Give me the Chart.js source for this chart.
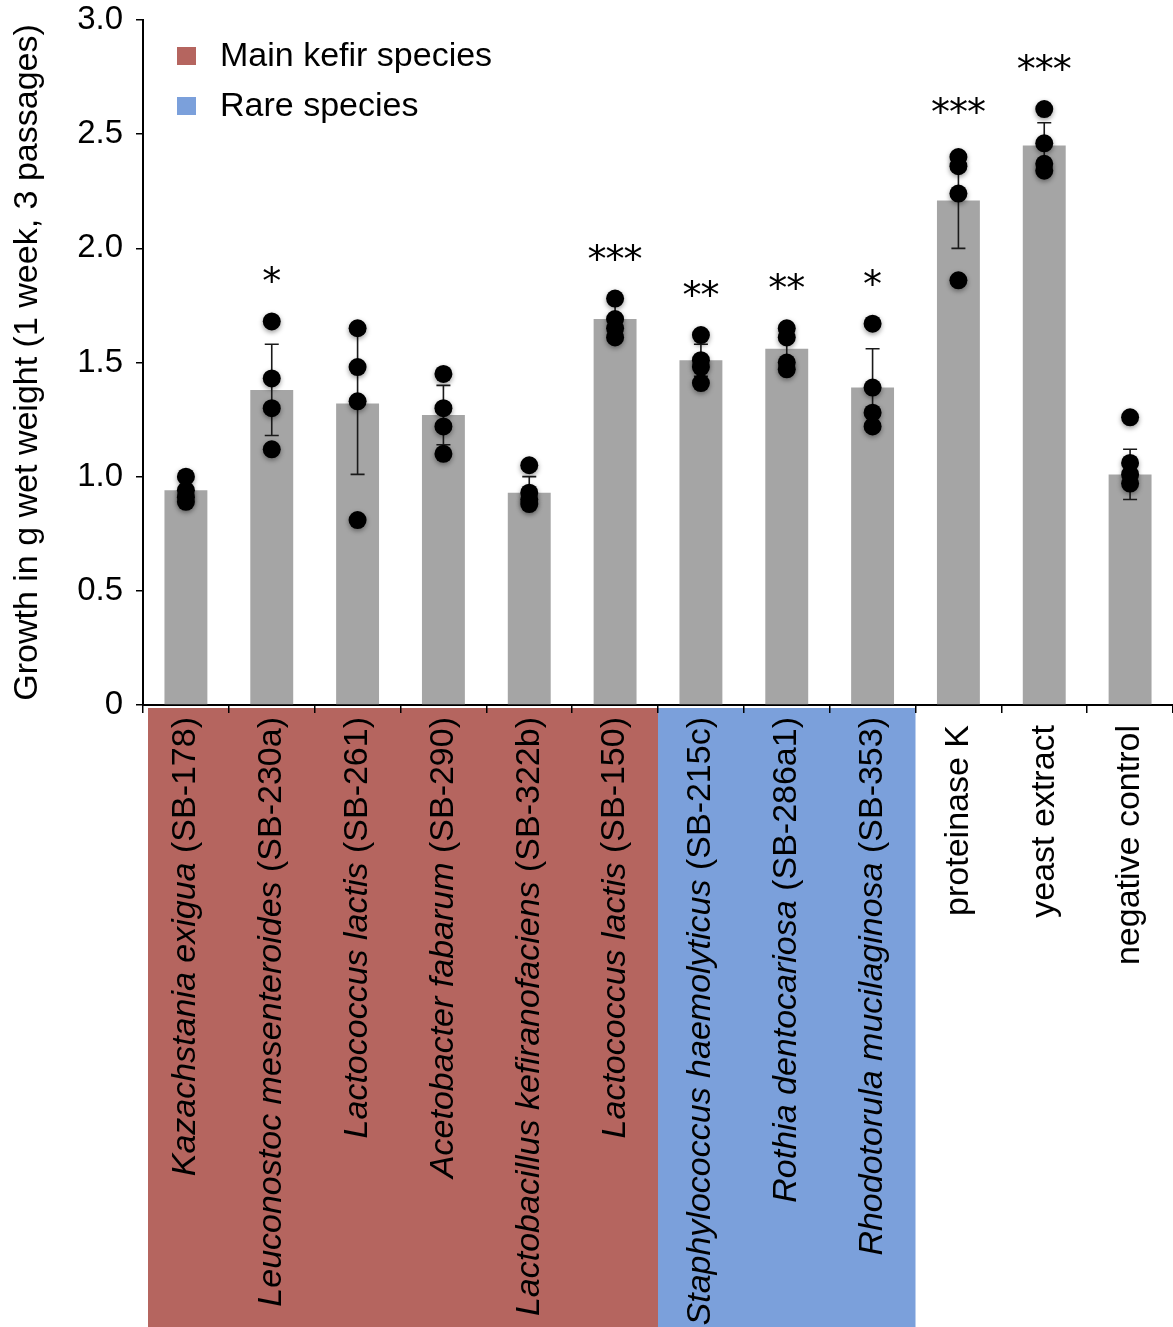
<!DOCTYPE html>
<html>
<head>
<meta charset="utf-8">
<title>Growth in g wet weight</title>
<script src="https://cdn.jsdelivr.net/npm/chart.js@4.4.1/dist/chart.umd.min.js"></script>
<style>
  html, body { margin: 0; padding: 0; background: #fff; }
  canvas { display: block; }
</style>
</head>
<body>
<canvas id="growthChart" width="1173" height="1327"></canvas>
<script>
const FONT = "'Liberation Sans', Arial, Helvetica, sans-serif";

// species name (italic) and strain code (upright) for each category
const species = [
  "Kazachstania exigua",
  "Leuconostoc mesenteroides",
  "Lactococcus lactis",
  "Acetobacter fabarum",
  "Lactobacillus kefiranofaciens",
  "Lactococcus lactis",
  "Staphylococcus haemolyticus",
  "Rothia dentocariosa",
  "Rhodotorula mucilaginosa",
  "proteinase K",
  "yeast extract",
  "negative control",
];
const strains = ["SB-178", "SB-230a", "SB-261", "SB-290", "SB-322b", "SB-150",
  "SB-215c", "SB-286a1", "SB-353", "", "", ""];

// 0 = main kefir species, 1 = rare species, -1 = controls
const categoryGroup = [0, 0, 0, 0, 0, 0, 1, 1, 1, -1, -1, -1];
const groupNames = ["Main kefir species", "Rare species"];
const groupColors = ["#b5655f", "#7ba0db"];

const means = [0.94, 1.38, 1.32, 1.27, 0.93, 1.69, 1.51, 1.56, 1.39, 2.21, 2.45, 1.01];
const sds = [0.05, 0.20, 0.31, 0.13, 0.07, 0.08, 0.07, 0.08, 0.17, 0.21, 0.10, 0.11];

const replicates = [
  [1.00, 0.94, 0.91, 0.89],
  [1.68, 1.43, 1.30, 1.12],
  [1.65, 1.48, 1.33, 0.81],
  [1.45, 1.30, 1.22, 1.10],
  [1.05, 0.93, 0.90, 0.88],
  [1.78, 1.69, 1.65, 1.61],
  [1.62, 1.51, 1.48, 1.41],
  [1.65, 1.61, 1.50, 1.47],
  [1.67, 1.39, 1.28, 1.22],
  [2.40, 2.36, 2.24, 1.86],
  [2.61, 2.46, 2.37, 2.34],
  [1.26, 1.06, 1.01, 0.97],
];

const stars = ["", "*", "", "", "", "***", "**", "**", "*", "***", "***", ""];

const yTickLabels = ["0", "0.5", "1.0", "1.5", "2.0", "2.5", "3.0"];
const yTitle = "Growth in g wet weight (1 week, 3 passages)";

const categories = species.map((s, i) => (strains[i] ? `${s} (${strains[i]})` : s));

const dotPoints = [];
replicates.forEach((vals, i) => {
  vals.forEach((v) => dotPoints.push({ x: categories[i], y: v }));
});

function drawStars(ctx, text, cx, cy) {
  ctx.font = `38px 'DejaVu Sans', sans-serif`;
  ctx.fillStyle = "#000";
  ctx.textAlign = "center";
  ctx.textBaseline = "alphabetic";
  const m = ctx.measureText("*");
  const baseY = cy + (m.actualBoundingBoxAscent - m.actualBoundingBoxDescent) / 2;
  const pitch = 18;
  for (let k = 0; k < text.length; k++) {
    ctx.fillText("*", cx + (k - (text.length - 1) / 2) * pitch, baseY);
  }
}

const decorPlugin = {
  id: "decor",
  beforeDraw(chart) {
    const { ctx, chartArea } = chart;
    const xScale = chart.scales.x;
    const step = (chartArea.right - chartArea.left) / categories.length;

    // coloured boxes behind the category labels
    ctx.save();
    groupNames.forEach((name, g) => {
      const idx = categoryGroup.map((c, i) => (c === g ? i : -1)).filter((i) => i >= 0);
      if (!idx.length) return;
      const x0 = Math.max(xScale.getPixelForValue(idx[0]) - step / 2, chartArea.left + 5);
      const x1 = xScale.getPixelForValue(idx[idx.length - 1]) + step / 2;
      ctx.fillStyle = groupColors[g];
      ctx.fillRect(x0, chartArea.bottom + 3, x1 - x0, chart.height - chartArea.bottom - 3);
    });

    // rotated category labels: italic species name, upright strain code
    ctx.fillStyle = "#000";
    ctx.textBaseline = "middle";
    ctx.textAlign = "right";
    categories.forEach((label, i) => {
      const cx = xScale.getPixelForValue(i);
      const top = chartArea.bottom + (categoryGroup[i] >= 0 ? 12 : 20);
      ctx.save();
      ctx.translate(cx, top);
      ctx.rotate(-Math.PI / 2);
      if (strains[i]) {
        const code = `(${strains[i]})`;
        ctx.font = `34px ${FONT}`;
        const w = ctx.measureText(code).width;
        ctx.fillText(code, 0, 0);
        ctx.font = `italic 34px ${FONT}`;
        ctx.fillText(species[i] + " ", -w, 0);
      } else {
        ctx.font = `34px ${FONT}`;
        ctx.fillText(species[i], 0, 0);
      }
      ctx.restore();
    });
    ctx.restore();
  },
  beforeDatasetDraw(chart, args) {
    if (args.meta.type === "line") {
      const ctx = chart.ctx;
      ctx.save();
      ctx.shadowColor = "rgba(0, 0, 0, 0.4)";
      ctx.shadowBlur = 5;
      ctx.shadowOffsetY = 2;
    }
  },
  afterDatasetDraw(chart, args) {
    const { ctx } = chart;
    const xScale = chart.scales.x;
    const yScale = chart.scales.y;
    if (args.meta.type === "line") {
      ctx.restore();
      return;
    }
    // error bars (mean +/- SD) over the bars
    ctx.save();
    ctx.strokeStyle = "#1a1a1a";
    ctx.lineWidth = 1.6;
    means.forEach((m, i) => {
      const x = xScale.getPixelForValue(i);
      const yHi = yScale.getPixelForValue(m + sds[i]);
      const yLo = yScale.getPixelForValue(m - sds[i]);
      ctx.beginPath();
      ctx.moveTo(x, yHi);
      ctx.lineTo(x, yLo);
      ctx.moveTo(x - 7, yHi);
      ctx.lineTo(x + 7, yHi);
      ctx.moveTo(x - 7, yLo);
      ctx.lineTo(x + 7, yLo);
      ctx.stroke();
    });
    ctx.restore();
  },
  afterDatasetsDraw(chart) {
    const { ctx, chartArea } = chart;
    const xScale = chart.scales.x;
    const yScale = chart.scales.y;

    // significance marks
    ctx.save();
    stars.forEach((s, i) => {
      if (!s) return;
      const top = Math.max(...replicates[i], means[i] + sds[i]);
      drawStars(ctx, s, xScale.getPixelForValue(i), yScale.getPixelForValue(top) - 47);
    });

    // legend
    ctx.font = `34px ${FONT}`;
    ctx.textAlign = "left";
    ctx.textBaseline = "middle";
    groupNames.forEach((name, g) => {
      const rowY = chartArea.top + 36 + g * 50;
      ctx.fillStyle = groupColors[g];
      ctx.fillRect(chartArea.left + 34, rowY - 9, 19, 18);
      ctx.fillStyle = "#000";
      ctx.fillText(name, chartArea.left + 77, rowY + 1);
    });
    ctx.restore();
  },
};

new Chart(document.getElementById("growthChart"), {
  type: "bar",
  data: {
    labels: categories,
    datasets: [
      {
        type: "bar",
        label: "mean",
        data: means,
        backgroundColor: "#a5a5a5",
        borderWidth: 0,
        barPercentage: 0.5,
        categoryPercentage: 1.0,
        order: 2,
      },
      {
        type: "line",
        label: "replicates",
        data: dotPoints,
        showLine: false,
        clip: false,
        pointRadius: 9,
        pointBackgroundColor: "#000",
        pointBorderWidth: 0,
        order: 1,
      },
    ],
  },
  options: {
    responsive: false,
    animation: false,
    devicePixelRatio: 1,
    layout: { autoPadding: false, padding: { top: 20, left: 0, right: 0, bottom: 0 } },
    plugins: {
      legend: { display: false },
      tooltip: { enabled: false },
    },
    scales: {
      x: {
        offset: true,
        afterFit(scale) {
          scale.height = 622;
        },
        ticks: { display: false },
        grid: {
          offset: true,
          drawOnChartArea: false,
          tickLength: 8,
          color: "#000",
          lineWidth: 1.5,
        },
        border: { color: "#000", width: 2 },
      },
      y: {
        min: 0,
        max: 3,
        afterFit(scale) {
          scale.width = 143;
          scale.paddingTop = 0;
          scale.paddingBottom = 0;
        },
        ticks: {
          stepSize: 0.5,
          color: "#000",
          padding: 13,
          font: { family: FONT, size: 33 },
          callback: (value, index) => yTickLabels[index],
        },
        grid: {
          drawOnChartArea: false,
          tickLength: 7,
          color: "#000",
          lineWidth: 1.5,
        },
        border: { color: "#000", width: 2 },
        title: {
          display: true,
          text: yTitle,
          color: "#000",
          font: { family: FONT, size: 34 },
          padding: { top: 7, bottom: 0 },
        },
      },
    },
  },
  plugins: [decorPlugin],
});
</script>
</body>
</html>
